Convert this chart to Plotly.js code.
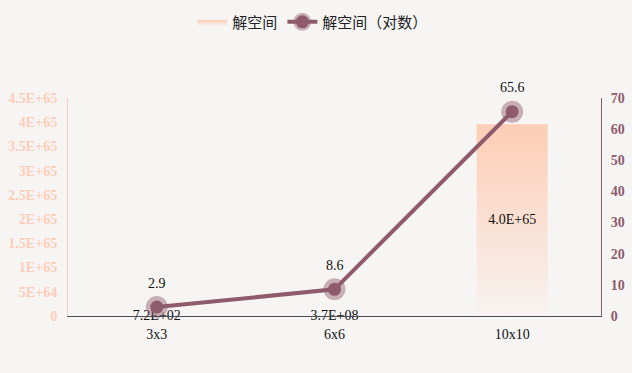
<!DOCTYPE html>
<html><head><meta charset="utf-8">
<script src="https://cdn.plot.ly/plotly-3.0.1.min.js"></script>
<style>html,body{margin:0;padding:0;background:#f7f5f4;}#c{width:632px;height:373px;}</style>
</head><body><div id="c"></div>
<script>
const categories = ['3x3', '6x6', '10x10'];
const spaceValues = [720, 3.7e8, 3.96e65];
const logValues = [2.86, 8.57, 65.6];
const leftTickVals = [0, 5e64, 1e65, 1.5e65, 2e65, 2.5e65, 3e65, 3.5e65, 4e65, 4.5e65];
const leftTickText = ['0', '5E+64', '1E+65', '1.5E+65', '2E+65', '2.5E+65', '3E+65', '3.5E+65', '4E+65', '4.5E+65'];
const seriesNames = ['解空间', '解空间（对数）'];

function fmtE(v) {
  const s = v.toExponential(1).toUpperCase();
  const m = s.match(/^(.*)E([+-])(\d+)$/);
  return m[1] + 'E' + m[2] + (m[3].length < 2 ? '0' + m[3] : m[3]);
}

const idx = categories.map((_, i) => i);
const barW = 0.4;
const bx = [], by = [];
idx.forEach((i, k) => {
  bx.push(i - barW/2, i + barW/2, i + barW/2, i - barW/2, i - barW/2, null);
  by.push(0, 0, spaceValues[k], spaceValues[k], 0, null);
});

const serif = 'Liberation Serif, Times New Roman, serif';
const mauve = '#8f5b6c';

const traces = [
  {
    type: 'scatter', x: bx, y: by, mode: 'lines', fill: 'toself',
    line: {width: 0, color: 'rgba(0,0,0,0)'},
    fillgradient: {type: 'vertical', colorscale: [[0, 'rgba(253,205,181,0.06)'], [1, 'rgba(253,205,181,1)']]},
    name: seriesNames[0], hoverinfo: 'skip'
  },
  {
    type: 'scatter', x: idx, y: spaceValues.map(v => v / 2), mode: 'text',
    text: spaceValues.map(fmtE), textposition: 'middle center', cliponaxis: false,
    textfont: {family: serif, size: 14, color: '#111'},
    showlegend: false, hoverinfo: 'skip'
  },
  {
    type: 'scatter', x: idx, y: logValues, yaxis: 'y2', mode: 'lines+markers',
    name: seriesNames[1], cliponaxis: false,
    line: {color: mauve, width: 4},
    marker: {size: 13, color: mauve, line: {width: 9, color: 'rgba(143,91,108,0.45)'}}
  }
];

const annotations = idx.map((i, k) => ({
  x: i, y: logValues[k], xref: 'x', yref: 'y2', yshift: 24, yanchor: 'middle',
  text: logValues[k].toFixed(1), showarrow: false,
  font: {family: serif, size: 14, color: '#111'}
}));

const layout = {
  width: 632, height: 373,
  paper_bgcolor: '#f7f5f4', plot_bgcolor: '#f7f5f4',
  margin: {l: 68, r: 31, t: 98, b: 57},
  showlegend: true,
  annotations: annotations,
  legend: {orientation: 'h', x: 0.495, xanchor: 'center', xref: 'container', y: 0.985, yref: 'container', yanchor: 'top',
    font: {family: 'Noto Sans CJK SC, sans-serif', size: 15, color: '#222'}, bgcolor: 'rgba(0,0,0,0)', itemwidth: 30},
  xaxis: {
    range: [-0.5, 2.5], tickvals: idx, ticktext: categories, showgrid: false, zeroline: false,
    showline: true, linecolor: '#4d4d5a', linewidth: 1, ticks: '', ticklabelstandoff: 5,
    tickfont: {family: serif, size: 14, color: '#111'}, fixedrange: true
  },
  yaxis: {
    range: [0, 4.5e65], tickvals: leftTickVals, ticktext: leftTickText, showgrid: false, zeroline: false,
    showline: true, linecolor: '#fdd0bb', linewidth: 1, ticks: '',
    tickfont: {family: serif, size: 14, color: '#fdcdb8', weight: 'bold'}, ticklabelstandoff: 7
  },
  yaxis2: {
    overlaying: 'y', side: 'right', range: [0, 70], dtick: 10, showgrid: false, zeroline: false,
    showline: true, linecolor: mauve, linewidth: 1, ticks: '',
    tickfont: {family: serif, size: 14, color: mauve, weight: 'bold'}, ticklabelstandoff: 6
  }
};

Plotly.newPlot('c', traces, layout, {displayModeBar: false, staticPlot: true});
</script></body></html>
